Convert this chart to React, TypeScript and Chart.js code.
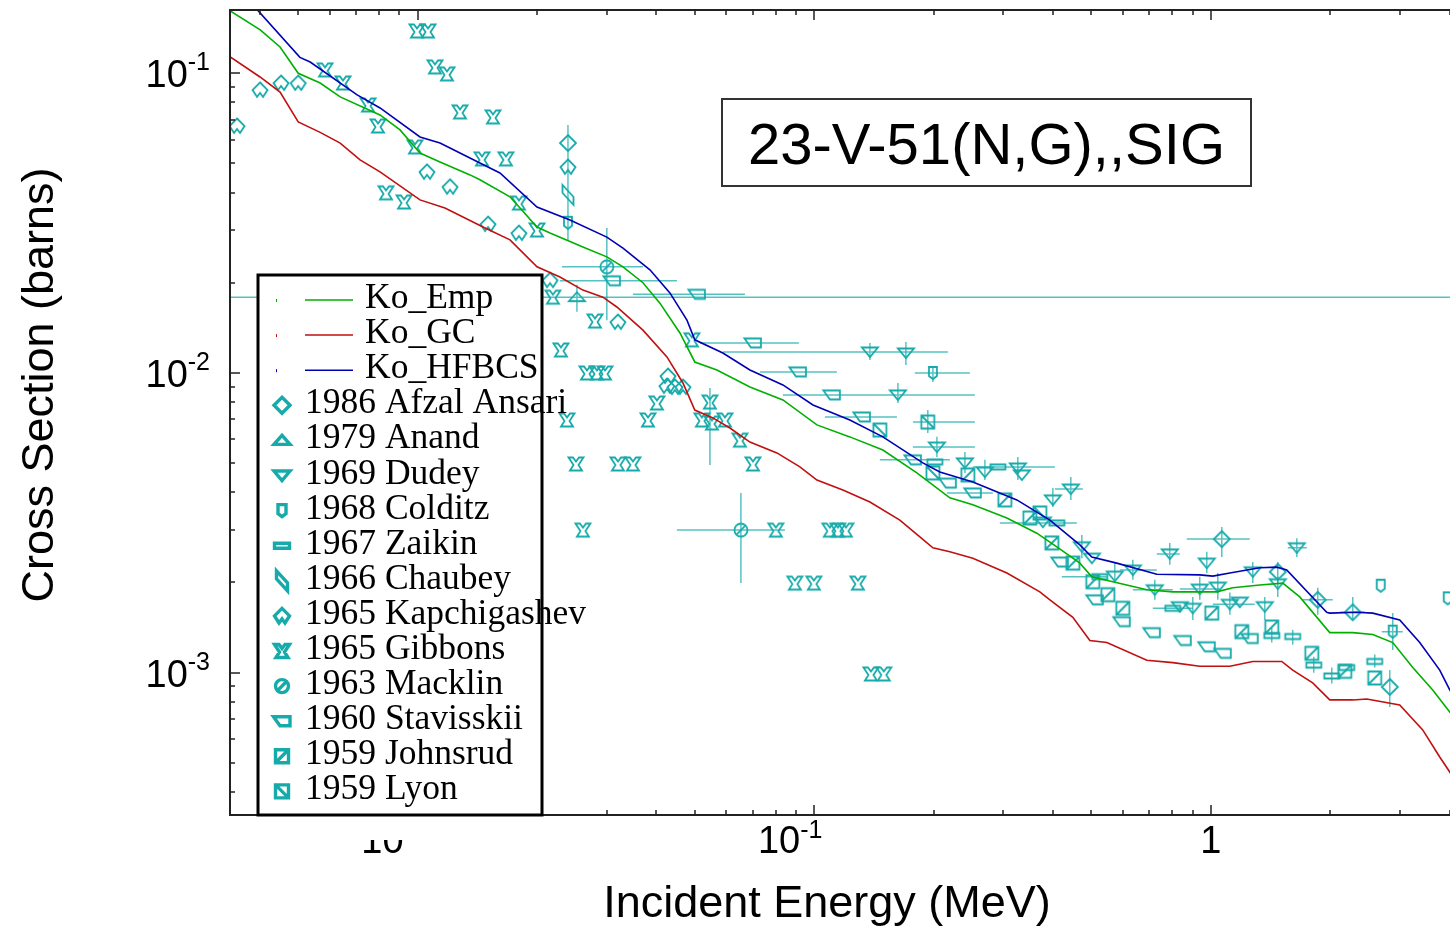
import React, { useEffect, useRef } from "react";
import { Chart, registerables } from "chart.js";

Chart.register(...registerables);

type Pt = (number | null)[]; // [E, XS, xLo, xHi, yLo, yHi]

// ---------- model curves (MeV, barns) ----------
const koEmpE = [0.00337, 0.00401, 0.0045, 0.005, 0.00568, 0.00638, 0.00804, 0.00903, 0.01014, 0.01139, 0.01356, 0.01436, 0.0171, 0.02, 0.02157, 0.02611, 0.03, 0.03295, 0.037, 0.04083, 0.04586, 0.05, 0.05684, 0.06885, 0.08339, 0.1016, 0.123, 0.149, 0.1815, 0.2198, 0.2512, 0.3061, 0.3642, 0.4091, 0.4676, 0.5012, 0.5662, 0.6898, 0.802, 1.035, 1.136, 1.329, 1.519, 1.676, 1.995, 2.28, 2.561, 2.876, 3.231, 3.627, 4.004, 4.5];
const koEmpXS = [0.1614, 0.1395, 0.1224, 0.1, 0.0928, 0.0834, 0.0726, 0.0647, 0.0542, 0.0506, 0.0458, 0.0441, 0.0387, 0.0307, 0.0293, 0.0263, 0.0244, 0.0226, 0.02, 0.0171, 0.0136, 0.01088, 0.01023, 0.00898, 0.00813, 0.00671, 0.00612, 0.00553, 0.00464, 0.00383, 0.00363, 0.00328, 0.00292, 0.00263, 0.00232, 0.00209, 0.00201, 0.00189, 0.00186, 0.00186, 0.00192, 0.00196, 0.00199, 0.00179, 0.00136, 0.00136, 0.00134, 0.00126, 0.00104, 0.000876, 0.000739, 0.00062];

const koGcE = [0.00337, 0.004006, 0.0045, 0.005, 0.00568, 0.00638, 0.00716, 0.00804, 0.01014, 0.01172, 0.01462, 0.0171, 0.02, 0.02285, 0.02611, 0.02933, 0.0318, 0.037, 0.04253, 0.04667, 0.05, 0.05554, 0.0613, 0.06885, 0.08054, 0.09203, 0.1016, 0.1181, 0.1382, 0.1644, 0.1847, 0.1992, 0.2198, 0.2512, 0.3061, 0.3706, 0.3929, 0.4489, 0.4955, 0.5468, 0.6898, 0.802, 0.938, 1.117, 1.276, 1.51, 1.609, 1.807, 1.995, 2.28, 2.473, 2.995, 3.423, 3.778, 4.004, 4.5];
const koGcXS = [0.1133, 0.0972, 0.0866, 0.0688, 0.0635, 0.0585, 0.0514, 0.0469, 0.0378, 0.0355, 0.0307, 0.0278, 0.0226, 0.0209, 0.0189, 0.0179, 0.0166, 0.0139, 0.01131, 0.00926, 0.00752, 0.00708, 0.00655, 0.00588, 0.00541, 0.00486, 0.00439, 0.00407, 0.00371, 0.00323, 0.00284, 0.00261, 0.00253, 0.00241, 0.00215, 0.00186, 0.00175, 0.00153, 0.00128, 0.00126, 0.0011, 0.00108, 0.00105, 0.00105, 0.00109, 0.00109, 0.00102, 0.000924, 0.000811, 0.000811, 0.000817, 0.00078, 0.000644, 0.000523, 0.000466, 0.00036];

const koHfE = [0.00337, 0.00394, 0.00505, 0.00536, 0.00704, 0.00804, 0.01014, 0.01139, 0.01207, 0.01436, 0.01613, 0.02, 0.02422, 0.03, 0.03295, 0.03853, 0.04327, 0.04777, 0.05, 0.05885, 0.06885, 0.08339, 0.0993, 0.123, 0.149, 0.1879, 0.2074, 0.2512, 0.3243, 0.3929, 0.4676, 0.5012, 0.5794, 0.731, 0.938, 1.012, 1.117, 1.329, 1.467, 1.554, 1.96, 1.995, 2.333, 2.561, 2.995, 3.364, 3.778, 4.004, 4.5];
const koHfXS = [0.205, 0.163, 0.113, 0.109, 0.0847, 0.0766, 0.0613, 0.0585, 0.0563, 0.0502, 0.0465, 0.0358, 0.0324, 0.0284, 0.0261, 0.0221, 0.0185, 0.015, 0.0129, 0.01166, 0.01023, 0.00912, 0.00782, 0.00697, 0.00612, 0.00501, 0.00467, 0.00433, 0.00377, 0.00323, 0.00267, 0.00243, 0.00232, 0.00213, 0.00212, 0.0021, 0.00215, 0.00224, 0.00225, 0.0022, 0.00159, 0.00158, 0.00159, 0.00158, 0.0015, 0.00126, 0.00102, 0.000876, 0.00068];

// ---------- experimental data: [E, XS, xLo, xHi, yLo, yHi] ----------
const afzalPts: Pt[] = [
  [0.02394, 0.0585],
  [1.0659, 0.00279, 0.87, 1.2538, 0.00243, 0.00306],
  [1.4752, 0.00217, null, null, 0.00199, 0.00234],
  [1.8607, 0.00175, 1.706, 2.03, 0.00156, 0.00192],
  [2.28, 0.00159, 2.114, 2.444, 0.0015, 0.00179],
  [2.8267, 0.000896, null, null, 0.000768, 0.00102],
];
const anandPts: Pt[] = [[0.02522, 0.0179, 0.001, 100, 0.016, 0.0197]];
const dudeyPts: Pt[] = [
  [0.1382, 0.01175, 0.05885, 0.2173, 0.01105, 0.0126],
  [0.1703, 0.01166, null, null, 0.01063, 0.01269],
  [0.1626, 0.00845, 0.1358, 0.2542, 0.00794, 0.00926],
  [0.2039, 0.00566, 0.1774, 0.2542, 0.00524, 0.00612],
  [0.2399, 0.00501, null, null, 0.00464, 0.00545],
  [0.2694, 0.00467, null, null, 0.00439, 0.00513],
  [0.3262, 0.00482, null, null, 0.00439, 0.00524],
  [0.3339, 0.00457],
  [0.3997, 0.00377, null, null, 0.00357, 0.00413],
  [0.4437, 0.0041, 0.4045, 0.4758, 0.00377, 0.0045],
  [0.3771, 0.00318],
  [0.473, 0.00263, null, null, 0.00241, 0.00288],
  [0.5012, 0.00241],
  [0.5728, 0.0021, null, null, 0.00204, 0.00232],
  [0.6359, 0.0022, 0.5897, 0.731, 0.00204, 0.00238],
  [0.788, 0.00249, 0.731, 0.8354, 0.00229, 0.00271],
  [0.977, 0.00232, null, null, 0.00215, 0.00253],
  [1.6477, 0.00261, 1.5636, 1.746, 0.00243, 0.00281],
  [0.7225, 0.00189, 0.6359, 0.802, 0.00175, 0.00204],
  [0.938, 0.0019, 0.8354, 1.0536, 0.00175, 0.00209],
  [1.0414, 0.00193, null, null, 0.00175, 0.00215],
  [1.276, 0.00217, null, null, 0.00199, 0.00234],
  [1.4752, 0.00198, null, null, 0.00179, 0.00209],
  [0.8354, 0.00166],
  [0.9008, 0.00164, null, null, 0.0015, 0.00179],
  [1.117, 0.00169, 1.012, 1.291, 0.00156, 0.00185],
  [1.1833, 0.00172],
  [1.368, 0.00166, null, null, 0.0015, 0.00179],
];
const colditzPts: Pt[] = [
  [0.02394, 0.0317],
  [0.1992, 0.01, 0.1794, 0.2469, 0.00933, 0.01055],
  [2.6823, 0.00195],
  [3.957, 0.00177],
  [2.876, 0.00137, 2.698, 3.048, 0.00119, 0.00158],
];
const zaikinPts: Pt[] = [
  [0.2015, 0.00505],
  [0.2905, 0.00486, 0.2512, 0.4045],
  [0.4091, 0.00316, 0.2938, 0.4595],
  [0.525, 0.00209, 0.4211, 0.5468],
  [0.802, 0.00164, 0.7142, 0.9008],
  [1.4248, 0.00133, null, null, 0.00126, 0.00141],
  [1.609, 0.00132, null, null, 0.00124, 0.00139],
  [1.8181, 0.00106, null, null, 0.001, 0.00113],
  [2.0184, 0.000975, null, null, 0.00092, 0.00104],
  [2.2018, 0.00104],
  [2.5906, 0.00109, null, null, 0.00104, 0.00115],
];
const chaubeyPts: Pt[] = [[0.02394, 0.0393, null, null, 0.0278, 0.0672]];
const kapchiPts: Pt[] = [
  [0.003505, 0.0667], [0.004006, 0.088], [0.004526, 0.0928], [0.005, 0.0928],
  [0.01056, 0.0469], [0.01207, 0.0418], [0.01505, 0.0314], [0.01801, 0.0293],
  [0.02157, 0.0204], [0.02394, 0.0487], [0.032, 0.0148], [0.04278, 0.00977],
  [0.04253, 0.00905], [0.04456, 0.00898], [0.04667, 0.00898],
];
const gibbonsPts: Pt[] = [
  [0.005842, 0.1026], [0.006485, 0.0928], [0.007499, 0.0784], [0.007946, 0.0667],
  [0.009849, 0.0568], [0.009965, 0.1384], [0.01062, 0.1384], [0.01106, 0.105],
  [0.01186, 0.0995], [0.01279, 0.0743], [0.01549, 0.0715], [0.01453, 0.0518],
  [0.0167, 0.0518], [0.008323, 0.0399], [0.009241, 0.0372], [0.01801, 0.0369],
  [0.02, 0.03], [0.02194, 0.0179], [0.02298, 0.01193], [0.02801, 0.0149],
  [0.02673, 0.01], [0.02833, 0.01], [0.02968, 0.01], [0.0238, 0.00697],
  [0.03809, 0.00697], [0.04013, 0.00794], [0.04917, 0.0129],
  [0.05459, 0.008, null, null, 0.00493, 0.00891],
  [0.05211, 0.00697], [0.05522, 0.00681], [0.05955, 0.00697], [0.06497, 0.00597],
  [0.07007, 0.00497], [0.02508, 0.00497], [0.032, 0.00497], [0.03491, 0.00497],
  [0.02611, 0.00299], [0.08005, 0.00299], [0.1095, 0.00299], [0.1147, 0.00299],
  [0.1202, 0.00299], [0.08939, 0.00199], [0.0998, 0.00199], [0.1289, 0.00199],
  [0.139, 0.00099], [0.1498, 0.00099],
];
const macklinPts: Pt[] = [
  [0.03, 0.0226, 0.02312, 0.037, 0.015, 0.03047],
  [0.06535, 0.00299, 0.04507, 0.08438, 0.00199, 0.00398],
];
const stavisskiiPts: Pt[] = [
  [0.0309, 0.0203, 0.02285, 0.04507],
  [0.05062, 0.0183, 0.03491, 0.06688],
  [0.07007, 0.0126, 0.05151, 0.0915],
  [0.09097, 0.01008, 0.07296, 0.1141],
  [0.1108, 0.00845, 0.08339, 0.1358],
  [0.1319, 0.00713, 0.1064, 0.1617],
  [0.1774, 0.00513, 0.1464, 0.2198],
  [0.2173, 0.00429],
  [0.2512, 0.00398, 0.2161, 0.2821],
  [0.4163, 0.00234], [0.51, 0.00175], [0.5965, 0.00148], [0.7101, 0.00136],
  [0.85, 0.00128], [0.977, 0.00122], [1.0721, 0.00116], [1.2538, 0.0013],
];
const johnsrudPts: Pt[] = [
  [0.244, 0.00457], [0.3025, 0.00377], [0.3497, 0.00328], [0.3974, 0.00271],
  [0.4489, 0.00232], [0.5041, 0.00201], [0.55, 0.00182], [0.6, 0.00164],
  [1.0058, 0.00158], [1.1971, 0.00137], [1.4248, 0.00142], [1.7972, 0.00116],
  [2.1766, 0.00101], [2.5906, 0.00096],
];
const lyonPts: Pt[] = [
  [0.1464, 0.00645],
  [0.1934, 0.00686, 0.1774, 0.2542, 0.0063, 0.00752],
  [0.1992, 0.00464],
  [0.3706, 0.00341],
];

// ---------- axis ticks ----------
const xTickVals = [0.01, 0.1, 1];
const xTickBase = ["10", "10", "1"];
const xTickExp = ["-2", "-1", ""];
const yTickVals = [0.1, 0.01, 0.001];
const yTickBase = ["10", "10", "10"];
const yTickExp = ["-1", "-2", "-3"];

const TITLE = "23-V-51(N,G),,SIG";
const X_TITLE = "Incident Energy (MeV)";
const Y_TITLE = "Cross Section (barns)";

const CYAN = "#17aaaa";
const ERR = "rgba(23,170,170,0.72)";
const SANS = "'Liberation Sans', Arial, sans-serif";
const SERIF = "'Liberation Serif', 'Times New Roman', serif";

function poly(g: CanvasRenderingContext2D, p: number[][]) {
  g.moveTo(p[0][0], p[0][1]);
  for (let i = 1; i < p.length; i++) g.lineTo(p[i][0], p[i][1]);
  g.closePath();
}

function shapePath(g: CanvasRenderingContext2D, type: string) {
  g.beginPath();
  switch (type) {
    case "diamond": poly(g, [[0, -8], [8, 0], [0, 8], [-8, 0]]); break;
    case "triUp": poly(g, [[-8, 4], [8, 4], [0, -5]]); break;
    case "triDown": poly(g, [[-8, -4.5], [8, -4.5], [0, 5]]); break;
    case "shield": poly(g, [[-4, -6], [4, -6], [4, 3], [0, 6], [-4, 3]]); break;
    case "hbar": g.rect(-7.5, -2.5, 15, 5); break;
    case "para": poly(g, [[-5.5, -10], [5.5, 2], [5.5, 10], [-5.5, -2]]); break;
    case "kapchi": poly(g, [[0, -7.5], [7.5, 0], [3, 7], [0, 3], [-3, 7], [-7.5, 0]]); break;
    case "gibbons":
      poly(g, [[-7.5, -6.5], [-3, -6.5], [0, -2.5], [3, -6.5], [7.5, -6.5], [2.5, 1], [6, 6.5], [-6, 6.5], [-2.5, 1]]);
      break;
    case "macklin":
      g.arc(0, 0, 6.5, 0, Math.PI * 2);
      g.moveTo(-3.8, 3.8); g.lineTo(3.8, -3.8);
      break;
    case "stav": poly(g, [[-8.5, -4.5], [8, -4.5], [8, 4.5], [-2, 4.5]]); break;
    case "sqSlash":
      g.rect(-6.5, -6.5, 13, 13);
      g.moveTo(-6.5, 6.5); g.lineTo(6.5, -6.5);
      break;
    case "sqBack":
      g.rect(-6.5, -6.5, 13, 13);
      g.moveTo(-6.5, -6.5); g.lineTo(6.5, 6.5);
      break;
  }
}

function makeMarker(type: string, lw: number): HTMLCanvasElement {
  const c = document.createElement("canvas");
  c.width = 28; c.height = 28;
  const g = c.getContext("2d")!;
  g.translate(14, 14);
  g.strokeStyle = CYAN;
  g.lineWidth = lw;
  g.lineJoin = "miter";
  shapePath(g, type);
  g.stroke();
  return c;
}

const errorBarPlugin = {
  id: "errbars",
  beforeDatasetsDraw(chart: any) {
    const { ctx, chartArea: a } = chart;
    const xs = chart.scales.x, ys = chart.scales.y;
    ctx.save();
    ctx.beginPath();
    ctx.rect(a.left, a.top, a.right - a.left, a.bottom - a.top);
    ctx.clip();
    ctx.strokeStyle = ERR;
    ctx.lineWidth = 1.5;
    chart.data.datasets.forEach((ds: any) => {
      if (!ds.pts) return;
      ds.pts.forEach((p: Pt) => {
        const x = xs.getPixelForValue(p[0]);
        const y = ys.getPixelForValue(p[1]);
        ctx.beginPath();
        if (p[2] != null && p[3] != null) {
          ctx.moveTo(xs.getPixelForValue(p[2]), y);
          ctx.lineTo(xs.getPixelForValue(p[3]), y);
        }
        if (p[4] != null && p[5] != null) {
          ctx.moveTo(x, ys.getPixelForValue(p[4]));
          ctx.lineTo(x, ys.getPixelForValue(p[5]));
        }
        ctx.stroke();
      });
    });
    ctx.restore();
  },
};

const framePlugin = {
  id: "frame",
  afterDatasetsDraw(chart: any) {
    const { ctx, chartArea: a } = chart;
    const xs = chart.scales.x, ys = chart.scales.y;
    ctx.save();
    ctx.strokeStyle = "#222";
    ctx.lineWidth = 2;
    ctx.strokeRect(a.left, a.top, a.right - a.left, a.bottom - a.top);
    ctx.lineWidth = 1.5;
    ctx.beginPath();
    for (let d = -3; d <= 0; d++) {
      for (let m = 1; m <= 9; m++) {
        const v = m * Math.pow(10, d);
        if (v < xs.min || v > xs.max) continue;
        const px = Math.round(xs.getPixelForValue(v));
        const len = m === 1 ? 10 : 5;
        ctx.moveTo(px, a.bottom); ctx.lineTo(px, a.bottom - len);
        ctx.moveTo(px, a.top); ctx.lineTo(px, a.top + len);
      }
    }
    for (let d = -4; d <= -1; d++) {
      for (let m = 1; m <= 9; m++) {
        const v = m * Math.pow(10, d);
        if (v < ys.min || v > ys.max) continue;
        const py = Math.round(ys.getPixelForValue(v));
        const len = m === 1 ? 10 : 5;
        ctx.moveTo(a.left, py); ctx.lineTo(a.left + len, py);
        ctx.moveTo(a.right, py); ctx.lineTo(a.right - len, py);
      }
    }
    ctx.stroke();

    ctx.fillStyle = "#000";
    ctx.textBaseline = "alphabetic";
    // x tick labels
    xTickVals.forEach((v, i) => {
      const px = xs.getPixelForValue(v);
      ctx.save();
      if (v === 0.01) {
        ctx.beginPath();
        ctx.rect(0, 840, 1500, 100);
        ctx.clip();
      }
      if (xTickExp[i]) {
        ctx.font = `38px ${SANS}`;
        ctx.textAlign = "right";
        ctx.fillText(xTickBase[i], px - 14, 853);
        ctx.font = `25px ${SANS}`;
        ctx.textAlign = "left";
        ctx.fillText(xTickExp[i], px - 14, 838);
      } else {
        ctx.font = `38px ${SANS}`;
        ctx.textAlign = "center";
        ctx.fillText(xTickBase[i], px, 853);
      }
      ctx.restore();
    });
    // y tick labels
    yTickVals.forEach((v, i) => {
      const py = ys.getPixelForValue(v);
      ctx.font = `25px ${SANS}`;
      ctx.textAlign = "right";
      const w = ctx.measureText(yTickExp[i]).width;
      ctx.fillText(yTickExp[i], 210, py - 3);
      ctx.font = `38px ${SANS}`;
      ctx.fillText(yTickBase[i], 210 - w, py + 14);
    });
    // axis titles
    ctx.font = `45px ${SANS}`;
    ctx.textAlign = "center";
    ctx.fillText(X_TITLE, 827, 917);
    ctx.save();
    ctx.translate(53, 385);
    ctx.rotate(-Math.PI / 2);
    ctx.fillText(Y_TITLE, 0, 0);
    ctx.restore();
    ctx.restore();
  },
  afterDraw(chart: any) {
    const { ctx } = chart;
    ctx.save();
    // title box
    ctx.fillStyle = "#fff";
    ctx.fillRect(722, 99, 529, 87);
    ctx.strokeStyle = "#333";
    ctx.lineWidth = 2;
    ctx.strokeRect(722, 99, 529, 87);
    ctx.fillStyle = "#000";
    ctx.font = `58px ${SANS}`;
    ctx.textAlign = "center";
    ctx.fillText(TITLE, 986.5, 164);

    // legend
    ctx.fillStyle = "#fff";
    ctx.fillRect(258, 275, 284, 540);
    ctx.font = `35.5px ${SERIF}`;
    ctx.textAlign = "left";
    chart.data.datasets.forEach((ds: any, i: number) => {
      const base = 308 + i * 35.1;
      const cy = base - 8;
      if (ds.isCurve) {
        ctx.fillStyle = ds.borderColor;
        ctx.fillRect(276, cy - 1, 1, 3);
        ctx.strokeStyle = ds.borderColor;
        ctx.lineWidth = 1.5;
        ctx.beginPath();
        ctx.moveTo(305, cy); ctx.lineTo(353, cy);
        ctx.stroke();
        ctx.fillStyle = "#000";
        ctx.fillText(ds.label, 365, base);
      } else {
        ctx.save();
        ctx.translate(282, cy);
        ctx.strokeStyle = CYAN;
        ctx.lineWidth = 3.4;
        shapePath(ctx, ds.marker);
        ctx.stroke();
        ctx.restore();
        ctx.fillStyle = "#000";
        ctx.fillText(ds.label, 305, base);
      }
    });
    ctx.strokeStyle = "#000";
    ctx.lineWidth = 3;
    ctx.strokeRect(258, 275, 284, 540);
    ctx.restore();
  },
};

function zip(e: number[], s: number[]) {
  return e.map((x, i) => ({ x, y: s[i] }));
}

export default function App() {
  const ref = useRef<HTMLCanvasElement | null>(null);
  useEffect(() => {
    if (!ref.current) return;
    const curves = [
      { label: "Ko_Emp", e: koEmpE, s: koEmpXS, color: "#00b000" },
      { label: "Ko_GC", e: koGcE, s: koGcXS, color: "#c01010" },
      { label: "Ko_HFBCS", e: koHfE, s: koHfXS, color: "#0000b4" },
    ];
    const exps = [
      { label: "1986 Afzal Ansari", pts: afzalPts, marker: "diamond" },
      { label: "1979 Anand", pts: anandPts, marker: "triUp" },
      { label: "1969 Dudey", pts: dudeyPts, marker: "triDown" },
      { label: "1968 Colditz", pts: colditzPts, marker: "shield" },
      { label: "1967 Zaikin", pts: zaikinPts, marker: "hbar" },
      { label: "1966 Chaubey", pts: chaubeyPts, marker: "para" },
      { label: "1965 Kapchigashev", pts: kapchiPts, marker: "kapchi" },
      { label: "1965 Gibbons", pts: gibbonsPts, marker: "gibbons" },
      { label: "1963 Macklin", pts: macklinPts, marker: "macklin" },
      { label: "1960 Stavisskii", pts: stavisskiiPts, marker: "stav" },
      { label: "1959 Johnsrud", pts: johnsrudPts, marker: "sqSlash" },
      { label: "1959 Lyon", pts: lyonPts, marker: "sqBack" },
    ];
    const datasets: any[] = [
      ...curves.map((c) => ({
        label: c.label,
        data: zip(c.e, c.s),
        isCurve: true,
        showLine: true,
        borderColor: c.color,
        backgroundColor: c.color,
        borderWidth: 1.6,
        pointRadius: 0,
        tension: 0,
      })),
      ...exps.map((x) => ({
        label: x.label,
        pts: x.pts,
        marker: x.marker,
        data: x.pts.map((p) => ({ x: p[0] as number, y: p[1] as number })),
        showLine: false,
        pointStyle: makeMarker(x.marker, 1.8),
        pointRadius: 6,
        borderWidth: 0,
      })),
    ];
    const chart = new Chart(ref.current, {
      type: "scatter",
      data: { datasets },
      options: {
        animation: false,
        responsive: false,
        devicePixelRatio: 1,
        events: [],
        layout: { padding: { left: 230, top: 10, right: 12, bottom: 113 } },
        scales: {
          x: { type: "logarithmic", bounds: "data", min: 0.003365, max: 5, display: false },
          y: { type: "logarithmic", bounds: "data", min: 3.35e-4, max: 0.1626, display: false },
        },
        plugins: { legend: { display: false }, tooltip: { enabled: false } },
      } as any,
      plugins: [errorBarPlugin, framePlugin],
    });
    return () => chart.destroy();
  }, []);
  return (
    <div style={{ position: "fixed", left: 0, top: 0, width: 1450, height: 928, overflow: "hidden", background: "#fff" }}>
      <canvas ref={ref} width={1500} height={928} style={{ display: "block" }} />
    </div>
  );
}
